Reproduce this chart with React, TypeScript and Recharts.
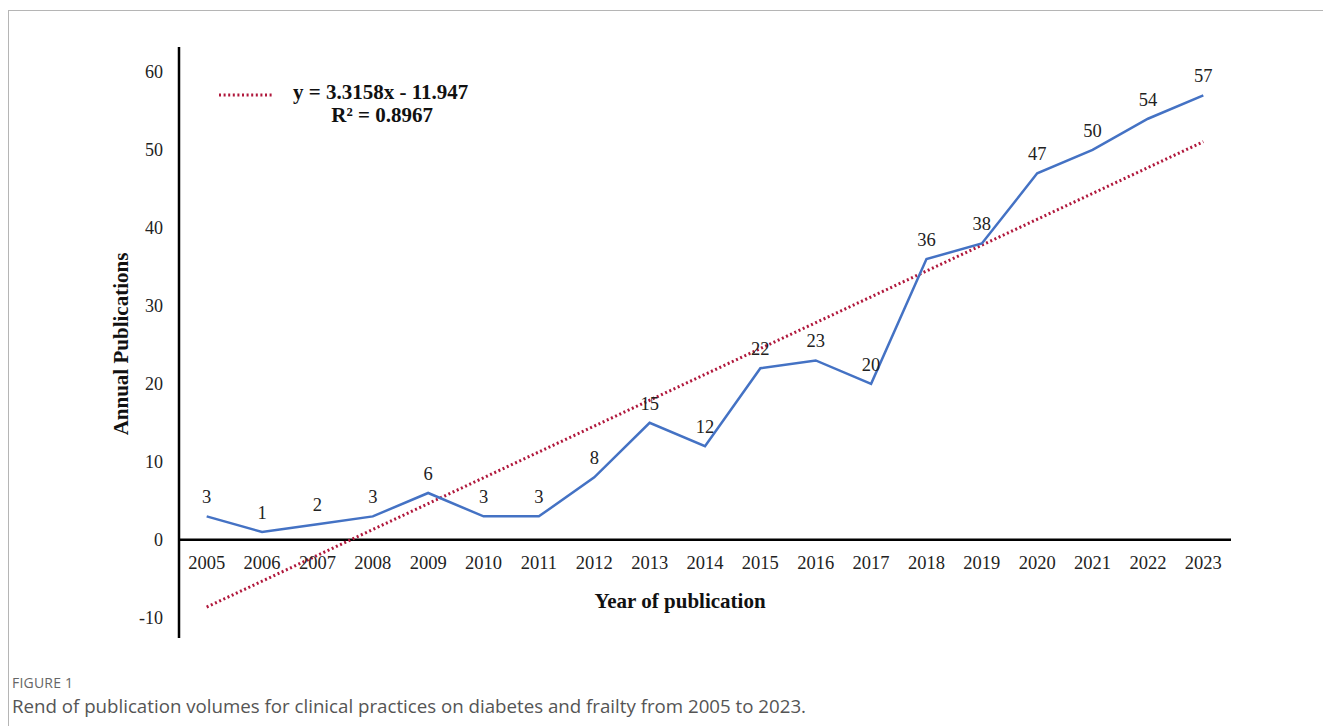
import { LabelList, Line, LineChart, ReferenceLine, XAxis, YAxis } from "recharts";

const years = [
  "2005", "2006", "2007", "2008", "2009", "2010", "2011", "2012", "2013", "2014",
  "2015", "2016", "2017", "2018", "2019", "2020", "2021", "2022", "2023",
];
const publications = [3, 1, 2, 3, 6, 3, 3, 8, 15, 12, 22, 23, 20, 36, 38, 47, 50, 54, 57];
const yTicks = [-10, 0, 10, 20, 30, 40, 50, 60];
// trendline end values (y = 3.3158x - 11.947)
const trendEnds = [-8.63, 51.05];
const trendEquation = "y = 3.3158x - 11.947";
const trendR2 = "R² = 0.8967";

const data = years.map((year, i) => ({ year, count: publications[i], zero: 0 }));

const serif = '"Liberation Serif", "Times New Roman", serif';
const TREND = "#b0183c";
const BLUE = "#4472c4";

function TrendLegend() {
  return (
    <div style={{ display: "flex", alignItems: "flex-start", fontFamily: serif }}>
      <svg width={56} height={14} style={{ marginTop: 7 }}>
        <line x1={1} y1={7} x2={54} y2={7} stroke={TREND} strokeWidth={3} strokeDasharray="2 2.6" />
      </svg>
      <div
        style={{
          marginLeft: 19,
          fontWeight: "bold",
          fontSize: 21,
          color: "#111",
          lineHeight: "23px",
          textAlign: "center",
        }}
      >
        <div>{trendEquation}</div>
        <div style={{ paddingLeft: 3 }}>{trendR2}</div>
      </div>
    </div>
  );
}

export default function App() {
  return (
    <div
      style={{
        position: "relative",
        width: 1321,
        height: 740,
        marginTop: 2,
        border: "1px solid #b5b5b5",
        boxSizing: "border-box",
        background: "#fff",
      }}
    >
      <div style={{ position: "absolute", left: -1, top: -3 }}>
        <LineChart
          width={1300}
          height={640}
          data={data}
          margin={{ top: 39, right: 77, bottom: 10, left: 0 }}
        >
          <XAxis dataKey="year" scale="band" hide height={0} />
          <YAxis
            width={171}
            domain={[-12.6, 63.2]}
            ticks={yTicks}
            allowDataOverflow
            axisLine={{ stroke: "#000", strokeWidth: 2.5 }}
            tickLine={false}
            tickSize={0}
            tickMargin={16}
            tick={{ fontFamily: serif, fontSize: 18, fill: "#222" }}
          />
          <ReferenceLine y={0} stroke="#000" strokeWidth={2.5} />
          <ReferenceLine
            segment={[
              { x: years[0], y: trendEnds[0] },
              { x: years[years.length - 1], y: trendEnds[1] },
            ]}
            stroke={TREND}
            strokeWidth={3}
            strokeDasharray="2 2.6"
          />
          <Line
            dataKey="zero"
            stroke="none"
            dot={false}
            activeDot={false}
            isAnimationActive={false}
            legendType="none"
          >
            <LabelList
              dataKey="year"
              position="bottom"
              offset={16}
              style={{ fontFamily: serif, fontSize: 18.5, fill: "#222" }}
            />
          </Line>
          <Line
            dataKey="count"
            stroke={BLUE}
            strokeWidth={2.5}
            dot={false}
            activeDot={false}
            isAnimationActive={false}
          >
            <LabelList
              dataKey="count"
              position="top"
              offset={13}
              style={{ fontFamily: serif, fontSize: 18.5, fill: "#222" }}
            />
          </Line>
        </LineChart>
      </div>
      <div style={{ position: "absolute", left: 209, top: 70 }}>
        <TrendLegend />
      </div>
      <div
        style={{
          position: "absolute",
          left: 112,
          top: 333,
          transform: "translate(-50%, -50%) rotate(-90deg)",
          fontFamily: serif,
          fontWeight: "bold",
          fontSize: 21,
          color: "#111",
          whiteSpace: "nowrap",
        }}
      >
        Annual Publications
      </div>
      <div
        style={{
          position: "absolute",
          left: 671,
          top: 590,
          transform: "translate(-50%, -50%)",
          fontFamily: serif,
          fontWeight: "bold",
          fontSize: 21,
          color: "#111",
          whiteSpace: "nowrap",
        }}
      >
        Year of publication
      </div>
      <div
        style={{
          position: "absolute",
          left: 3,
          top: 662,
          fontFamily: '"Open Sans", "Noto Sans", sans-serif',
          color: "#666",
        }}
      >
        <div style={{ fontSize: 14, letterSpacing: 0.2, lineHeight: "20px" }}>FIGURE 1</div>
        <div style={{ fontSize: 18.7, color: "#555", lineHeight: "26px" }}>
          Rend of publication volumes for clinical practices on diabetes and frailty from 2005 to 2023.
        </div>
      </div>
    </div>
  );
}
